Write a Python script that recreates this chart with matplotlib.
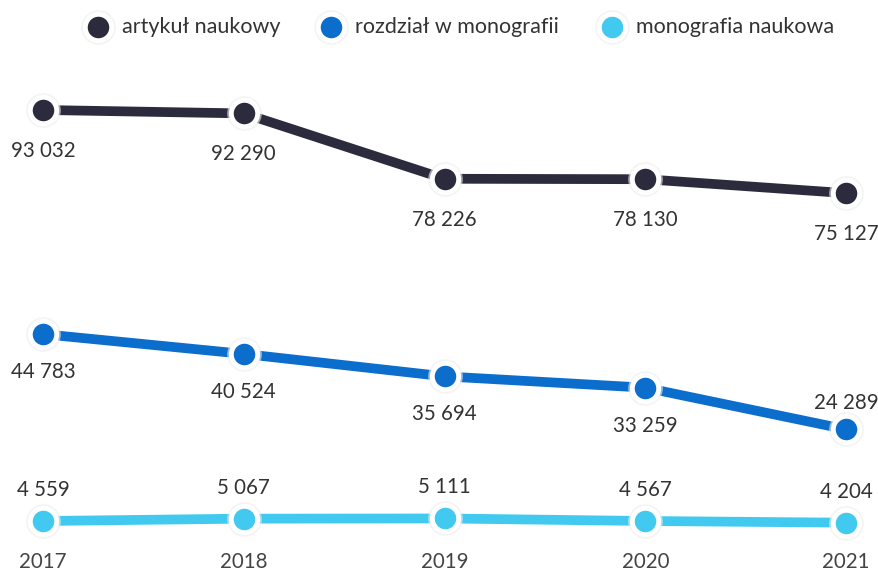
import matplotlib

matplotlib.use("Agg")

import matplotlib.pyplot as plt

plt.rcParams["font.family"] = ["Lato", "DejaVu Sans"]

years = ["2017", "2018", "2019", "2020", "2021"]
series_names = ["artykuł naukowy", "rozdział w monografii", "monografia naukowa"]
artykul = [93032, 92290, 78226, 78130, 75127]
rozdzial = [44783, 40524, 35694, 33259, 24289]
monografia = [4559, 5067, 5111, 4567, 4204]

colors = ["#2c2b3e", "#0b6dcc", "#42c9ef"]
# label offsets (pixels) relative to each point: negative = below
label_dy = [
    [-41, -41, -41, -41, -41],
    [-38, -38, -38, -38, 26],
    [31, 31, 31, 31, 31],
]


def fmt(v):
    return f"{v:,}".replace(",", " ")


fig = plt.figure(figsize=(8.79, 5.74), dpi=100)
ax = fig.add_axes([0, 0, 1, 1])
x = list(range(len(years)))

for vals, col, dys in zip([artykul, rozdzial, monografia], colors, label_dy):
    ax.plot(x, vals, color=col, linewidth=7, solid_capstyle="butt", zorder=2)
    ax.plot(x, vals, linestyle="none", marker="o", markersize=25,
            markerfacecolor="#eeeeee", markeredgecolor="none", alpha=0.6, zorder=3)
    ax.plot(x, vals, linestyle="none", marker="o", markersize=19,
            markerfacecolor=col, markeredgecolor="white", markeredgewidth=3.5, zorder=4)
    for xi, v, dy in zip(x, vals, dys):
        ax.annotate(fmt(v), (xi, v), xytext=(0, dy), textcoords="offset pixels",
                    ha="center", va="center", fontsize=14.8, color="#333333", zorder=5)

for xi, yr in zip(x, years):
    ax.annotate(yr, (xi, 0), xytext=(0, -20), textcoords="offset pixels",
                ha="center", va="center", fontsize=14.8, color="#444444")

# legend drawn in figure coordinates
leg_x = [98, 331, 612]
leg_y = 1 - 27 / 574
for lx, name, col in zip(leg_x, series_names, colors):
    ax.plot([lx / 879], [leg_y], transform=fig.transFigure, marker="o",
            markersize=25, markerfacecolor="#eeeeee", markeredgecolor="none", alpha=0.6,
            clip_on=False)
    ax.plot([lx / 879], [leg_y], transform=fig.transFigure, marker="o",
            markersize=19, markerfacecolor=col, markeredgecolor="white",
            markeredgewidth=3.5, clip_on=False)
    fig.text((lx + 24) / 879, leg_y, name, ha="left", va="center",
             fontsize=15.5, color="#333333")

ax.set_xlim(-0.214, 4.164)
ax.set_ylim(-6845, 116703)
ax.axis("off")

fig.savefig("out.png", dpi=100, facecolor="white")
